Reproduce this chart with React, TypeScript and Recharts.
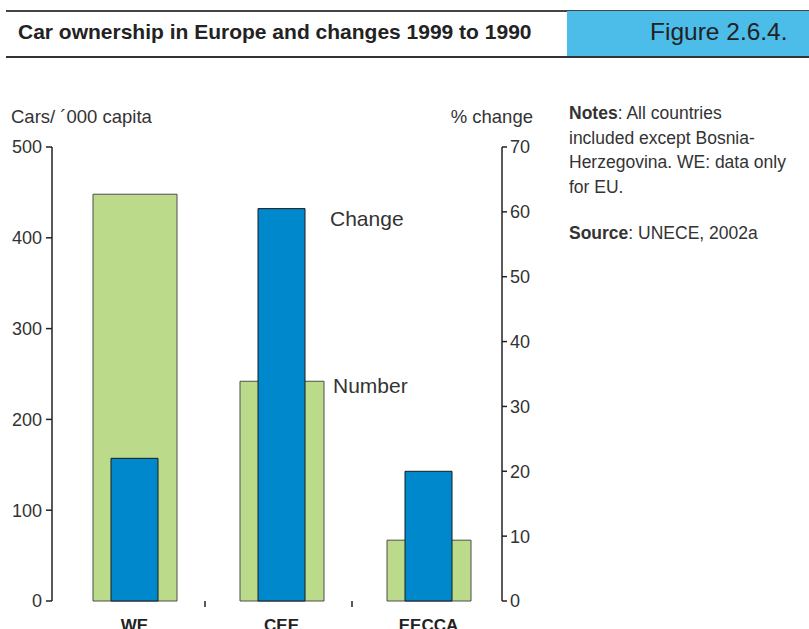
import React from 'react';
import { BarChart, Bar, XAxis, YAxis, LabelList } from 'recharts';

const regions = ['WE', 'CEE', 'EECCA'];
const carsPerThousand = [448, 242, 67];
const pctChange = [22, 60.5, 20];
const leftTicks = [0, 100, 200, 300, 400, 500];
const rightTicks = [0, 10, 20, 30, 40, 50, 60, 70];

const FONT = '"Liberation Sans", Arial, sans-serif';
const TEXT = '#333';
const AXIS = '#222';

// chart box: plot spans x 52..502, bottom axis at 629 - 28
const CHART_H = 629;
const X_AXIS_H = 28;
const PLOT_BOTTOM = CHART_H - X_AXIS_H;
const PLOT_W = 450;
const PAD_L = 9;
const BAND = (PLOT_W - PAD_L) / regions.length;

const data = regions.map((region, i) => ({
    region,
    number: carsPerThousand[i],
    change: pctChange[i],
}));

// category separators sit between the bands, label below (cut by the frame like the source)
const RegionTick = ({ x, payload, index }: any) => (
    <g>
        {index < regions.length - 1 && (
            <line
                x1={x + BAND / 2 - 3}
                x2={x + BAND / 2 - 3}
                y1={PLOT_BOTTOM}
                y2={PLOT_BOTTOM + 6}
                stroke={AXIS}
                strokeWidth={1.5}
            />
        )}
        <text x={x} y={PLOT_BOTTOM + 30} textAnchor="middle" fontFamily={FONT} fontSize={17} fontWeight="bold" fill="#222">
            {payload.value}
        </text>
    </g>
);

const ChangeLabel = (props: any) => {
    const { x, y, width, index } = props;
    if (index !== 1) return null;
    return (
        <text x={x + width + 25} y={y + 12} dominantBaseline="middle" fontFamily={FONT} fontSize={21} fill={TEXT}>
            Change
        </text>
    );
};

const NumberLabel = (props: any) => {
    const { x, y, width, index } = props;
    if (index !== 1) return null;
    return (
        <text x={x + width + 9} y={y + 6} dominantBaseline="middle" fontFamily={FONT} fontSize={21} fill={TEXT}>
            Number
        </text>
    );
};

export default function App() {
    return (
        <div style={{ position: 'absolute', left: 0, top: 0, width: 809, height: 629, overflow: 'hidden', background: '#fff', fontFamily: FONT, color: TEXT }}>
            {/* header band */}
            <div style={{ position: 'absolute', left: 6, top: 10, width: 803, height: 1.5, background: '#444' }} />
            <div style={{ position: 'absolute', left: 567, top: 11, width: 242, height: 45, background: '#4cbde9' }} />
            <div style={{ position: 'absolute', left: 6, top: 56, width: 803, height: 2, background: '#333' }} />
            <div style={{ position: 'absolute', left: 18, top: 20, fontSize: 21, fontWeight: 'bold', color: '#222', whiteSpace: 'nowrap' }}>
                Car ownership in Europe and changes 1999 to 1990
            </div>
            <div style={{ position: 'absolute', left: 650, top: 18, fontSize: 24.5, color: '#222', whiteSpace: 'nowrap' }}>
                Figure 2.6.4.
            </div>

            {/* axis titles */}
            <div style={{ position: 'absolute', left: 11, top: 106, fontSize: 18.5, whiteSpace: 'nowrap' }}>
                Cars/ ´000 capita
            </div>
            <div style={{ position: 'absolute', right: 809 - 533, top: 106, fontSize: 18.5, whiteSpace: 'nowrap' }}>
                % change
            </div>

            {/* notes */}
            <div style={{ position: 'absolute', left: 569, top: 101, width: 240, fontSize: 17.5, lineHeight: '24.5px', whiteSpace: 'nowrap' }}>
                <b>Notes</b>: All countries
                <br />
                included except Bosnia-
                <br />
                Herzegovina. WE: data only
                <br />
                for EU.
                <div style={{ marginTop: 22 }}>
                    <b>Source</b>: UNECE, 2002a
                </div>
            </div>

            <div style={{ position: 'absolute', left: 0, top: 0 }}>
                <BarChart width={560} height={CHART_H} data={data} margin={{ top: 147, right: 0, bottom: 0, left: 0 }}>
                    <XAxis
                        xAxisId="num"
                        dataKey="region"
                        height={X_AXIS_H}
                        padding={{ left: PAD_L, right: 0 }}
                        axisLine={{ stroke: AXIS, strokeWidth: 1.5 }}
                        tickLine={false}
                        tick={<RegionTick />}
                        interval={0}
                    />
                    <XAxis xAxisId="chg" dataKey="region" hide padding={{ left: PAD_L, right: 0 }} />
                    <YAxis
                        yAxisId="left"
                        width={52}
                        domain={[0, 500]}
                        ticks={leftTicks}
                        interval={0}
                        tickSize={6}
                        tickMargin={4}
                        axisLine={{ stroke: AXIS, strokeWidth: 1.5 }}
                        tickLine={{ stroke: AXIS, strokeWidth: 1.5 }}
                        tick={{ fill: TEXT, fontSize: 18, fontFamily: FONT }}
                    />
                    <YAxis
                        yAxisId="right"
                        orientation="right"
                        width={58}
                        domain={[0, 70]}
                        ticks={rightTicks}
                        interval={0}
                        tickSize={5}
                        tickMargin={3}
                        axisLine={{ stroke: AXIS, strokeWidth: 1.5 }}
                        tickLine={{ stroke: AXIS, strokeWidth: 1.5 }}
                        tick={{ fill: TEXT, fontSize: 18, fontFamily: FONT, textAnchor: 'start' }}
                    />
                    <Bar
                        xAxisId="num"
                        yAxisId="left"
                        dataKey="number"
                        barSize={84}
                        fill="#bbdb8b"
                        stroke="#4d4d4d"
                        strokeWidth={1}
                        isAnimationActive={false}
                    >
                        <LabelList dataKey="number" content={<NumberLabel />} />
                    </Bar>
                    <Bar
                        xAxisId="chg"
                        yAxisId="right"
                        dataKey="change"
                        barSize={47}
                        fill="#0088cc"
                        stroke="#1a1a1a"
                        strokeWidth={1}
                        isAnimationActive={false}
                    >
                        <LabelList dataKey="change" content={<ChangeLabel />} />
                    </Bar>
                </BarChart>
            </div>
        </div>
    );
}
